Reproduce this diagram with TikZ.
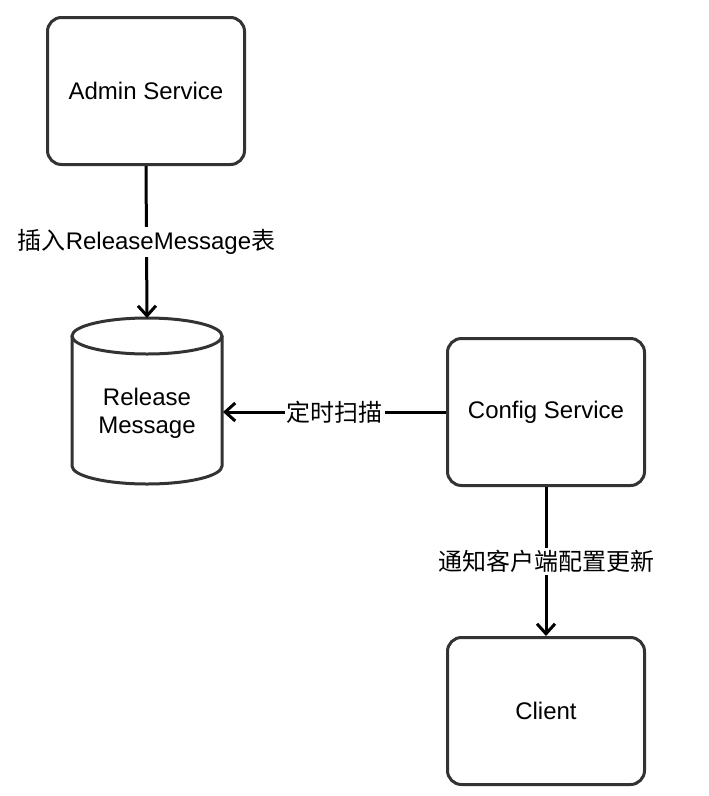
\documentclass[tikz,border=0pt]{standalone}
\usepackage{fontspec}
\setmainfont{Liberation Sans}
\newfontfamily\cjk{Noto Sans CJK SC}
\usetikzlibrary{arrows.meta}
\definecolor{edge}{HTML}{333333}
\tikzset{
  box/.style={draw=edge, line width=3pt, rounded corners=14pt, fill=white,
    minimum width=197pt, minimum height=147pt, inner sep=0pt,
    font=\fontsize{24}{28}\selectfont, align=center},
  cylline/.style={draw=edge, line width=3pt},
  arr/.style={draw=black, line width=3pt, -{Straight Barb[length=10pt,width=18pt]}},
  lbl/.style={fill=white, inner sep=2pt, font=\cjk\fontsize{24}{28}\selectfont}
}
\begin{document}
\begin{tikzpicture}[x=1pt,y=-1pt]
\useasboundingbox (0,0) rectangle (709,796);
% boxes
\node[box] (admin) at (146,91) {Admin Service};
\node[box] (config) at (546,412) {Config Service};
\node[box] (client) at (546,711) {Client};
% cylinder
\draw[cylline, fill=white] (72,336) -- (72,466) arc[start angle=180, end angle=0, x radius=75, y radius=18] -- (222,336);
\draw[cylline] (147,336) ellipse [x radius=75, y radius=18];
\node[font=\fontsize{24}{28}\selectfont, align=center] (rm) at (147,413) {Release\\Message};
\coordinate (rmtop) at (147,318);
\coordinate (rmside) at (223,412);
% connectors
\draw[arr] (admin.south) -- node[lbl] {插入\fontspec{Liberation Sans}ReleaseMessage\cjk 表} (rmtop);
\draw[arr] (config.west) -- node[lbl] {定时扫描} (rmside);
\draw[arr] (config.south) -- node[lbl] {通知客户端配置更新} (client.north);
\end{tikzpicture}
\end{document}
